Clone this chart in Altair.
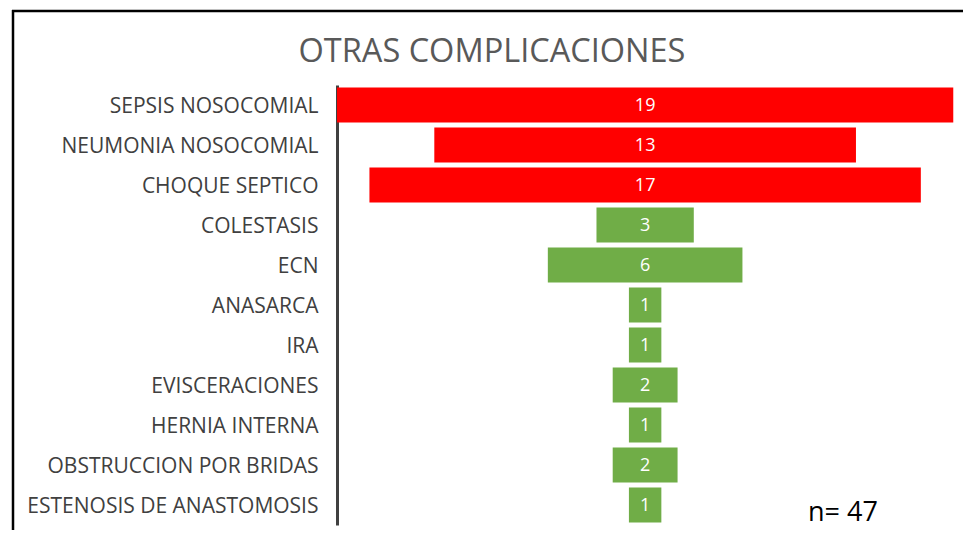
import altair as alt
import pandas as pd

categories = ["SEPSIS NOSOCOMIAL", "NEUMONIA NOSOCOMIAL", "CHOQUE SEPTICO", "COLESTASIS", "ECN",
              "ANASARCA", "IRA", "EVISCERACIONES", "HERNIA INTERNA", "OBSTRUCCION POR BRIDAS",
              "ESTENOSIS DE ANASTOMOSIS"]
values = [19, 13, 17, 3, 6, 1, 1, 2, 1, 2, 1]
groups = ["Infecciosa"] * 3 + ["Otra"] * 8
title_text = "OTRAS COMPLICACIONES"
note_text = "n= 47"

df = pd.DataFrame({"cat": categories, "v": values, "grp": groups})

FONT = "Open Sans"

yenc = alt.Y("cat:N", sort=categories,
             scale=alt.Scale(paddingInner=0.125, paddingOuter=0.0625),
             axis=alt.Axis(title=None, ticks=False, domain=True, domainColor="#404040",
                           domainWidth=3, labelPadding=19, labelFontSize=21,
                           labelColor="#404040", labelFont=FONT, labelLimit=400,
                           labelOffset=1.5))
xscale = alt.Scale(domain=[-9.5, 9.8], nice=False, zero=False)

base = alt.Chart(df).transform_calculate(lo="-datum.v/2", hi="datum.v/2", mid="0")

bars = base.mark_bar().encode(
    y=yenc,
    x=alt.X("lo:Q", scale=xscale, axis=None),
    x2="hi:Q",
    color=alt.Color("grp:N", scale=alt.Scale(domain=["Infecciosa", "Otra"],
                                               range=["#FF0000", "#70AD47"]), legend=None),
)

labels = base.mark_text(color="white", fontSize=18, font=FONT, baseline="middle", dy=1).encode(
    y=alt.Y("cat:N", sort=categories), x=alt.X("mid:Q", scale=xscale), text="v:Q")

title = alt.Chart(pd.DataFrame({"t": [title_text]})).mark_text(
    fontSize=32.5, font=FONT, color="#595959", align="center", baseline="alphabetic").encode(
    text="t:N", x=alt.value(155), y=alt.value(-23))

note = alt.Chart(pd.DataFrame({"t": [note_text]})).mark_text(
    fontSize=27, font=FONT, color="#000000", align="left", baseline="alphabetic").encode(
    text="t:N", x=alt.value(471), y=alt.value(436))

border_left = alt.Chart(pd.DataFrame({"a": [0]})).mark_rule(color="#000000", strokeWidth=2.5).encode(
    x=alt.value(-324), y=alt.value(-75), y2=alt.value(460))
border_top = alt.Chart(pd.DataFrame({"a": [0]})).mark_rule(color="#000000", strokeWidth=2.5).encode(
    x=alt.value(-325), x2=alt.value(640), y=alt.value(-74))

chart = alt.layer(bars, labels, title, note, border_left, border_top).properties(
    width=626, height=440,
    autosize=alt.AutoSizeParams(type="none"),
    padding={"left": 329, "top": 77, "right": 0, "bottom": 5},
).configure_view(stroke=None)

chart.save("out.html", embed_options={"renderer": "svg", "actions": False})
